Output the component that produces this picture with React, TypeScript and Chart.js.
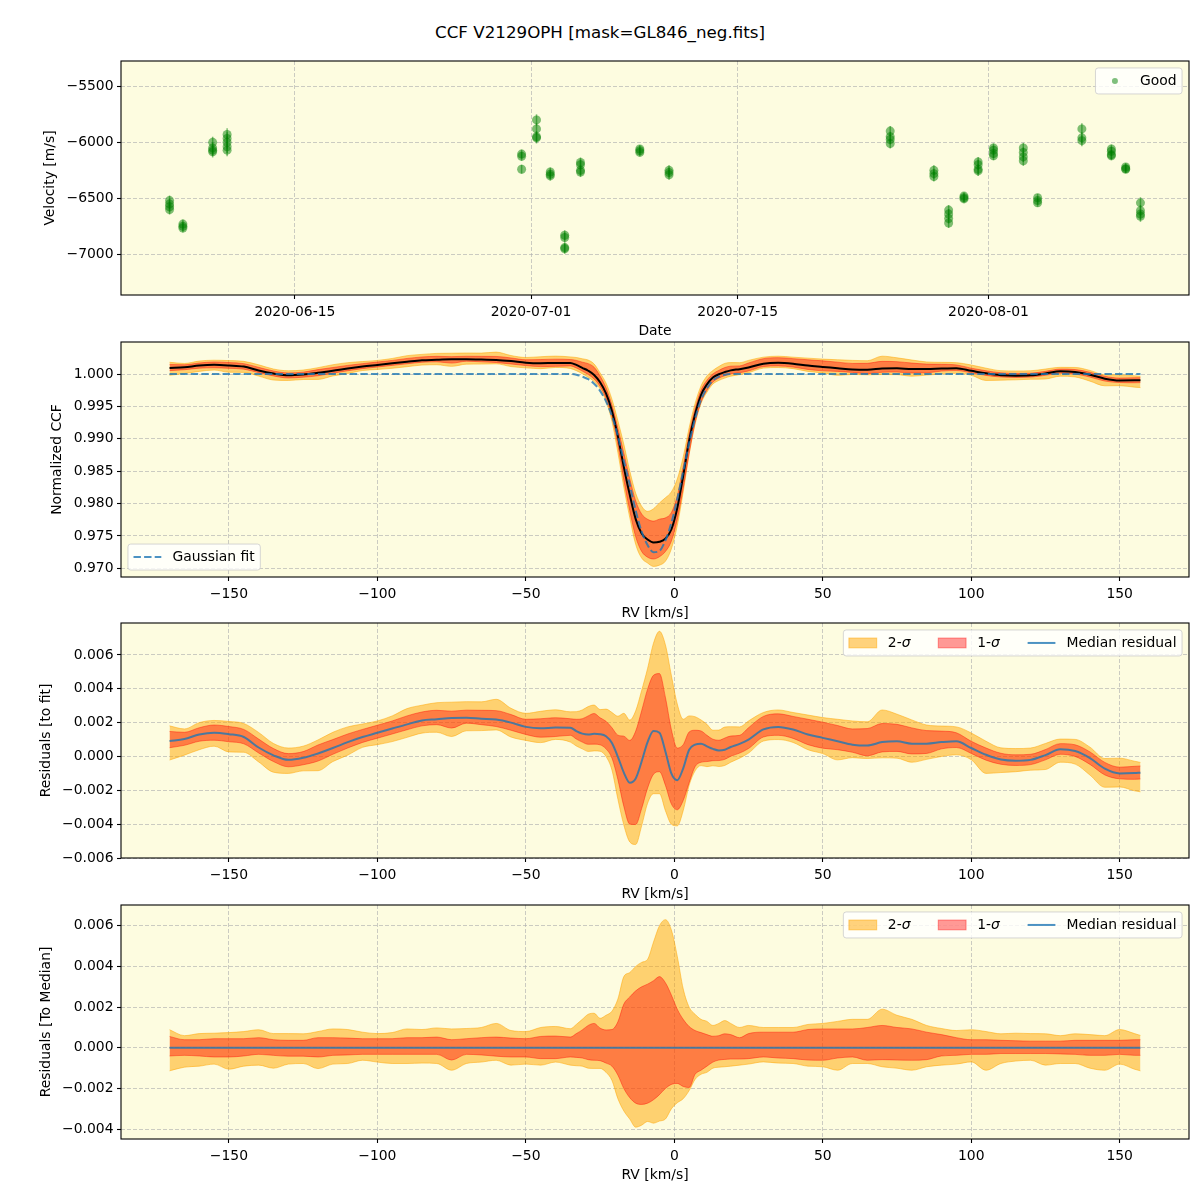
import React, { useEffect, useRef } from "react";
import { Chart, registerables } from "chart.js";

Chart.register(...registerables);

const FAMILY = "'DejaVu Sans', 'Liberation Sans', Arial, sans-serif";
const FS = 13.9;
const GRID_COLOR = "rgba(176,176,176,0.65)";
const BG = "#fdfce0";

// ---------------- Panel 1: velocities ----------------
const nightDates = [
  "2020-06-06T12:00:00Z", "2020-06-07T09:40:00Z", "2020-06-09T10:05:00Z", "2020-06-10T09:36:00Z",
  "2020-06-30T08:38:00Z", "2020-07-01T08:53:00Z", "2020-07-02T07:12:00Z", "2020-07-03T06:43:00Z",
  "2020-07-04T08:24:00Z", "2020-07-08T08:53:00Z", "2020-07-10T08:24:00Z", "2020-07-25T08:10:00Z",
  "2020-07-28T07:12:00Z", "2020-07-29T07:12:00Z", "2020-07-30T08:10:00Z", "2020-07-31T07:12:00Z",
  "2020-08-01T08:10:00Z", "2020-08-03T08:38:00Z", "2020-08-04T07:55:00Z", "2020-08-07T07:55:00Z",
  "2020-08-09T07:55:00Z", "2020-08-10T07:12:00Z", "2020-08-11T07:12:00Z",
];
const nightVels = [
  [-6520, -6550, -6575, -6600],
  [-6730, -6750, -6765],
  [-6000, -6050, -6070, -6085],
  [-5930, -5965, -6000, -6040, -6070],
  [-6105, -6125, -6240],
  [-5800, -5880, -5950, -5960],
  [-6265, -6285, -6300],
  [-6830, -6850, -6940, -6950],
  [-6180, -6200, -6250, -6265],
  [-6060, -6075, -6090],
  [-6250, -6270, -6290],
  [-5900, -5950, -5975, -6010],
  [-6250, -6280, -6305],
  [-6605, -6640, -6680, -6720],
  [-6480, -6495, -6505],
  [-6175, -6200, -6240, -6255],
  [-6050, -6070, -6100, -6120],
  [-6050, -6090, -6130, -6165],
  [-6495, -6520, -6540],
  [-5880, -5960, -5985],
  [-6060, -6080, -6110, -6120],
  [-6220, -6235, -6240],
  [-6540, -6610, -6640, -6660],
];
const nightErrs = [45, 40, 50, 55, 40, 50, 40, 45, 45, 35, 45, 45, 45, 45, 35, 45, 40, 45, 35, 50, 40, 35, 50];
const dateTicks = ["2020-06-15", "2020-07-01", "2020-07-15", "2020-08-01"];
const dateRange = ["2020-06-03T05:00:00Z", "2020-08-14T14:10:00Z"];
const velTicks = [-7000, -6500, -6000, -5500];
const velRange = [-7363, -5274];

// ---------------- Panels 2-4: CCF ----------------
const rvGrid = [
  -170, -165, -160, -155, -150, -145, -140, -135, -130, -125, -120, -115, -110, -105, -100, -95, -90, -85, -80, -75,
  -70, -65, -60, -55, -50, -45, -40, -35, -33, -31, -29, -27, -25, -23, -21, -19, -17, -15, -13, -11,
  -9, -7, -5, -3, -1, 1, 3, 5, 7, 9, 11, 13, 15, 17, 19, 22, 25, 30, 35, 40,
  45, 50, 55, 60, 65, 70, 75, 80, 85, 90, 95, 100, 105, 110, 115, 120, 125, 130, 135, 140,
  145, 150, 155, 157,
];
const gaussFit = [
  1, 1, 1, 1, 1, 1, 1, 1, 1, 1, 1, 1, 1, 1, 1, 1, 1, 1, 1, 1,
  1, 1, 1, 1, 1, 1, 1, 1, 0.9999, 0.9996, 0.9992, 0.9985, 0.9974, 0.9958, 0.9935, 0.9904, 0.9866, 0.9829, 0.9789, 0.9757,
  0.9736, 0.9725, 0.9727, 0.9743, 0.977, 0.9807, 0.985, 0.9893, 0.9931, 0.996, 0.9978, 0.999, 0.9996, 0.9999, 1, 1, 1, 1, 1, 1,
  1, 1, 1, 1, 1, 1, 1, 1, 1, 1, 1, 1, 1, 1, 1, 1, 1, 1, 1, 1,
  1, 1, 1, 1,
];
const medianResidual = [
  0.00092, 0.00103, 0.0013, 0.00141, 0.00132, 0.00115, 0.00053, 0.00007, -0.0002, -0.00008, 0.00018, 0.0005, 0.00085, 0.00115, 0.0014, 0.00165, 0.0019, 0.00213, 0.0022, 0.00228,
  0.00229, 0.00223, 0.00218, 0.002, 0.00175, 0.00167, 0.00171, 0.0017, 0.0015, 0.00135, 0.0013, 0.00134, 0.00132, 0.0012, 0.0008, -0.00002, -0.00095, -0.00155, -0.0013, -0.0003,
  0.00085, 0.0015, 0.0014, 0.0003, -0.001, -0.0014, -0.0007, 0.0004, 0.0007, 0.00076, 0.0006, 0.00045, 0.00036, 0.0004, 0.00056, 0.00075, 0.001, 0.0016, 0.00175, 0.0016,
  0.0013, 0.0011, 0.0009, 0.0007, 0.00065, 0.00085, 0.0009, 0.00076, 0.00076, 0.00085, 0.0009, 0.0005, 0.0001, -0.00018, -0.00025, -0.0002, 0.00008, 0.00043, 0.00032, -0.0001,
  -0.00072, -0.001, -0.00098, -0.00096,
];
const sigma1Upper = [
  0.00056, 0.0004, 0.0004, 0.00045, 0.00045, 0.00045, 0.0005, 0.0004, 0.00037, 0.00037, 0.0005, 0.0005, 0.00048, 0.00045, 0.00045, 0.00045, 0.0005, 0.0005, 0.00053, 0.0004,
  0.00045, 0.0005, 0.00053, 0.00048, 0.00045, 0.00056, 0.00058, 0.00053, 0.0007, 0.00088, 0.0011, 0.0012, 0.00097, 0.00088, 0.0009, 0.00128, 0.00215, 0.0025, 0.0028, 0.003,
  0.00313, 0.0033, 0.0035, 0.0032, 0.0026, 0.0019, 0.0014, 0.00105, 0.00085, 0.00075, 0.00065, 0.00057, 0.0006, 0.00069, 0.00065, 0.0005, 0.0007, 0.00077, 0.00077, 0.00077,
  0.0009, 0.00093, 0.00093, 0.00093, 0.001, 0.0011, 0.001, 0.00093, 0.00077, 0.00065, 0.0005, 0.0004, 0.0004, 0.00037, 0.00035, 0.00033, 0.00033, 0.00033, 0.00037, 0.00037,
  0.00037, 0.00037, 0.0004, 0.0004,
];
const sigma1Lower = [
  -0.0004, -0.00037, -0.0004, -0.00045, -0.00045, -0.0004, -0.00032, -0.00037, -0.00041, -0.00041, -0.00045, -0.00037, -0.00035, -0.00032, -0.00032, -0.00032, -0.00032, -0.00032, -0.00032, -0.0006,
  -0.00032, -0.00035, -0.00041, -0.00045, -0.00045, -0.00053, -0.00053, -0.00045, -0.00047, -0.0005, -0.00058, -0.00061, -0.00063, -0.00075, -0.0009, -0.00134, -0.002, -0.00245, -0.00272, -0.00278,
  -0.00272, -0.00255, -0.0023, -0.002, -0.0018, -0.00175, -0.0019, -0.00195, -0.0013, -0.0011, -0.0009, -0.0007, -0.0006, -0.00057, -0.00055, -0.00055, -0.00053, -0.00045, -0.0005, -0.00053,
  -0.0006, -0.00061, -0.0005, -0.00045, -0.00061, -0.00058, -0.0006, -0.00061, -0.00058, -0.0004, -0.00037, -0.00032, -0.00032, -0.00028, -0.00028, -0.00028, -0.00028, -0.0003, -0.00032, -0.00037,
  -0.00037, -0.00032, -0.00037, -0.00037,
];
const sigma2Upper = [
  0.00089, 0.0006, 0.0007, 0.00072, 0.00075, 0.0008, 0.00089, 0.0007, 0.0007, 0.00069, 0.0008, 0.00093, 0.0009, 0.00077, 0.0007, 0.00075, 0.00093, 0.0009, 0.00098, 0.00093,
  0.00095, 0.001, 0.0012, 0.00085, 0.0008, 0.001, 0.00105, 0.00094, 0.00115, 0.0014, 0.00165, 0.0017, 0.00145, 0.0016, 0.0018, 0.0024, 0.0035, 0.0037, 0.004, 0.0042,
  0.00435, 0.0052, 0.006, 0.0063, 0.0058, 0.0045, 0.0029, 0.002, 0.00165, 0.0014, 0.0013, 0.0011, 0.0012, 0.00134, 0.0012, 0.001, 0.0011, 0.001, 0.001, 0.001,
  0.00115, 0.0012, 0.0013, 0.0014, 0.0014, 0.0019, 0.0016, 0.0014, 0.0011, 0.00095, 0.00085, 0.00089, 0.0008, 0.00069, 0.00072, 0.0007, 0.00069, 0.0006, 0.00069, 0.00065,
  0.0006, 0.0009, 0.0007, 0.00061,
];
const sigma2Lower = [
  -0.00113, -0.00095, -0.0009, -0.0008, -0.00105, -0.0009, -0.00085, -0.001, -0.0008, -0.00077, -0.00102, -0.0008, -0.00077, -0.00061, -0.0007, -0.00077, -0.00077, -0.00075, -0.00077, -0.0011,
  -0.00077, -0.0007, -0.00061, -0.00085, -0.0008, -0.00085, -0.0007, -0.00085, -0.00088, -0.0009, -0.001, -0.00101, -0.00101, -0.0012, -0.0016, -0.0025, -0.0031, -0.0035, -0.0039, -0.0038,
  -0.00362, -0.0037, -0.0036, -0.0035, -0.003, -0.0027, -0.0025, -0.0021, -0.00155, -0.0013, -0.0012, -0.001, -0.00095, -0.00093, -0.0009, -0.00085, -0.0008, -0.00069, -0.00075, -0.00077,
  -0.0009, -0.00093, -0.0011, -0.00077, -0.00077, -0.00093, -0.001, -0.0011, -0.00093, -0.00085, -0.0008, -0.00069, -0.0011, -0.00077, -0.00065, -0.00061, -0.00085, -0.00077, -0.00077, -0.001,
  -0.0011, -0.0008, -0.00105, -0.00113,
];
const rvTicks = [-150, -100, -50, 0, 50, 100, 150];
const rvRange = [-186.35, 173.35];
const ccfTicks = [0.97, 0.975, 0.98, 0.985, 0.99, 0.995, 1.0];
const ccfRange = [0.96867, 1.00494];
const residTicks = [-0.006, -0.004, -0.002, 0, 0.002, 0.004, 0.006];
const residRange = [-0.006, 0.00789];
const medTicks = [-0.004, -0.002, 0, 0.002, 0.004, 0.006];
const medRange = [-0.00448, 0.00702];

// ---------------- layout ----------------
const PANELS = [
  { top: 61, bottom: 295 },
  { top: 342, bottom: 577 },
  { top: 623, bottom: 858 },
  { top: 905, bottom: 1139 },
];
const PAD_TOP = 14;
const XAXIS_H = 46;
const YAXIS_W = 121;
const RIGHT_PAD = 11;

const minus = (s: string) => s.replace(/-/g, "\u2212");

const C2 = "rgba(255,165,0,0.5)";
const C1 = "rgba(255,0,0,0.4)";
const BLUE = "rgba(31,119,180,0.8)";
const GREEN = "rgba(0,128,0,0.5)";

function drawLegend(chart: any, spec: any) {
  if (!spec) return;
  const { ctx, chartArea } = chart;
  const pad = 5.56, handleLen = 27.8, htPad = 11.1, colSp = 27.8, axPad = 6.95, h = 26;
  const normal = `${FS}px ${FAMILY}`;
  const ital = `italic ${FS}px ${FAMILY}`;
  ctx.save();
  const widths = spec.items.map((it: any) => {
    ctx.font = normal;
    let w = ctx.measureText(it.label).width;
    if (it.italic) {
      ctx.font = ital;
      w += ctx.measureText(it.italic).width;
    }
    return w;
  });
  let total = pad * 2 + colSp * (spec.items.length - 1);
  widths.forEach((w: number) => (total += handleLen + htPad + w));
  let bx: number, by: number;
  if (spec.loc === "lower left") {
    bx = chartArea.left + axPad;
    by = chartArea.bottom - axPad - h;
  } else {
    bx = chartArea.right - axPad - total;
    by = chartArea.top + axPad;
  }
  const r = 2.8;
  ctx.beginPath();
  ctx.moveTo(bx + r, by);
  ctx.lineTo(bx + total - r, by);
  ctx.arcTo(bx + total, by, bx + total, by + r, r);
  ctx.lineTo(bx + total, by + h - r);
  ctx.arcTo(bx + total, by + h, bx + total - r, by + h, r);
  ctx.lineTo(bx + r, by + h);
  ctx.arcTo(bx, by + h, bx, by + h - r, r);
  ctx.lineTo(bx, by + r);
  ctx.arcTo(bx, by, bx + r, by, r);
  ctx.closePath();
  ctx.fillStyle = "rgba(255,255,255,0.8)";
  ctx.fill();
  ctx.strokeStyle = "rgba(204,204,204,0.8)";
  ctx.lineWidth = 1;
  ctx.stroke();
  const cy = by + h / 2;
  let x = bx + pad;
  spec.items.forEach((it: any, i: number) => {
    if (it.type === "patch") {
      ctx.fillStyle = it.color;
      ctx.fillRect(x, cy - 4.9, handleLen, 9.8);
      ctx.strokeStyle = it.color;
      ctx.lineWidth = 1;
      ctx.strokeRect(x, cy - 4.9, handleLen, 9.8);
    } else if (it.type === "line") {
      ctx.strokeStyle = it.color;
      ctx.lineWidth = it.width || 2;
      ctx.setLineDash(it.dash || []);
      ctx.beginPath();
      ctx.moveTo(x, cy);
      ctx.lineTo(x + handleLen, cy);
      ctx.stroke();
      ctx.setLineDash([]);
    } else if (it.type === "marker") {
      ctx.fillStyle = it.color;
      ctx.beginPath();
      ctx.arc(x + handleLen / 2, cy, 3, 0, Math.PI * 2);
      ctx.fill();
    }
    const tx = x + handleLen + htPad;
    ctx.fillStyle = "#000";
    ctx.textBaseline = "middle";
    ctx.textAlign = "left";
    ctx.font = normal;
    ctx.fillText(it.label, tx, cy);
    if (it.italic) {
      const lw = ctx.measureText(it.label).width;
      ctx.font = ital;
      ctx.fillText(it.italic, tx + lw, cy);
    }
    x += handleLen + htPad + widths[i] + colSp;
  });
  ctx.restore();
}

function framePlugin(legendSpec: any, errorBars = false) {
  return {
    id: "frame",
    beforeDraw(chart: any) {
      const { ctx, chartArea: a } = chart;
      ctx.save();
      ctx.fillStyle = BG;
      ctx.fillRect(a.left, a.top, a.right - a.left, a.bottom - a.top);
      ctx.restore();
    },
    beforeDatasetsDraw(chart: any) {
      if (!errorBars) return;
      const { ctx } = chart;
      const xs = chart.scales.x;
      const ys = chart.scales.y;
      ctx.save();
      ctx.strokeStyle = GREEN;
      ctx.lineWidth = 1.5;
      chart.data.datasets[0].data.forEach((p: any) => {
        const px = xs.getPixelForValue(p.x);
        ctx.beginPath();
        ctx.moveTo(px, ys.getPixelForValue(p.y - p.err));
        ctx.lineTo(px, ys.getPixelForValue(p.y + p.err));
        ctx.stroke();
      });
      ctx.restore();
    },
    afterDraw(chart: any) {
      const { ctx, chartArea: a } = chart;
      ctx.save();
      ctx.strokeStyle = "#000";
      ctx.lineWidth = 1.1;
      ctx.strokeRect(a.left, a.top, a.right - a.left, a.bottom - a.top);
      ctx.restore();
      drawLegend(chart, legendSpec);
    },
  };
}

function xAxis(range: number[], tickVals: number[], fmt: (v: any) => string, title: string) {
  return {
    type: "linear",
    min: range[0],
    max: range[1],
    afterBuildTicks: (s: any) => {
      s.ticks = tickVals.map((v) => ({ value: v }));
    },
    afterFit: (s: any) => {
      s.height = XAXIS_H;
    },
    ticks: {
      autoSkip: false,
      maxRotation: 0,
      minRotation: 0,
      padding: 5,
      color: "#000",
      font: { family: FAMILY, size: FS },
      callback: fmt,
    },
    grid: { color: GRID_COLOR, lineWidth: 1, drawTicks: true, tickLength: 4, tickColor: "#000", tickWidth: 1.1, tickBorderDash: [] },
    border: { display: false, dash: [4, 2] },
    title: { display: true, text: title, color: "#000", font: { family: FAMILY, size: FS }, padding: { top: 0, bottom: 1.5 } },
  };
}

function yAxis(range: number[], tickVals: number[], fmt: (v: any) => string, title: string, titlePad: number) {
  return {
    type: "linear",
    min: range[0],
    max: range[1],
    afterBuildTicks: (s: any) => {
      s.ticks = tickVals.map((v) => ({ value: v }));
    },
    afterFit: (s: any) => {
      s.width = YAXIS_W;
    },
    ticks: { autoSkip: false, padding: 3.5, color: "#000", font: { family: FAMILY, size: FS }, callback: fmt },
    grid: { color: GRID_COLOR, lineWidth: 1, drawTicks: true, tickLength: 4, tickColor: "#000", tickWidth: 1.1, tickBorderDash: [] },
    border: { display: false, dash: [4, 2] },
    title: { display: true, text: title, color: "#000", font: { family: FAMILY, size: FS }, padding: { top: titlePad, bottom: 0 } },
  };
}

const baseOptions = {
  responsive: false,
  animation: false,
  devicePixelRatio: 1,
  events: [],
  layout: { padding: { left: 0, right: RIGHT_PAD, top: PAD_TOP, bottom: 0 } },
  plugins: { legend: { display: false }, tooltip: { enabled: false } },
};

function pts(center: number[], off?: number[]) {
  return rvGrid.map((x, i) => ({ x, y: center[i] + (off ? off[i] : 0) }));
}

function bandDatasets(center: number[]) {
  const common = { pointRadius: 0, borderWidth: 1, cubicInterpolationMode: "monotone" };
  return [
    { ...common, data: pts(center, sigma2Upper), borderColor: C2, backgroundColor: C2, fill: "+1", order: 6 },
    { ...common, data: pts(center, sigma2Lower), borderColor: C2, fill: false, order: 5 },
    { ...common, data: pts(center, sigma1Upper), borderColor: C1, backgroundColor: C1, fill: "+1", order: 4 },
    { ...common, data: pts(center, sigma1Lower), borderColor: C1, fill: false, order: 3 },
  ];
}

const fmt3 = (v: any) => minus(Number(v).toFixed(3));
const fmtInt = (v: any) => minus(String(v));
const fmtDate = (v: any) => new Date(v).toISOString().slice(0, 10);
const dms = (s: string) => Date.parse(s);

const sigmaLegend = (loc: string) => ({
  loc,
  items: [
    { type: "patch", color: C2, label: "2-", italic: "\u03c3" },
    { type: "patch", color: C1, label: "1-", italic: "\u03c3" },
    { type: "line", color: BLUE, width: 2, label: "Median residual" },
  ],
});

export default function App() {
  const r1 = useRef<HTMLCanvasElement>(null);
  const r2 = useRef<HTMLCanvasElement>(null);
  const r3 = useRef<HTMLCanvasElement>(null);
  const r4 = useRef<HTMLCanvasElement>(null);

  useEffect(() => {
    const charts: Chart[] = [];

    // Panel 1
    const obs = nightDates.flatMap((d, i) => nightVels[i].map((v) => ({ x: dms(d), y: v, err: nightErrs[i] })));
    charts.push(
      new Chart(r1.current as HTMLCanvasElement, {
        type: "scatter",
        data: {
          datasets: [
            { data: obs, pointRadius: 4.5, pointBackgroundColor: GREEN, pointBorderWidth: 0, pointBorderColor: "rgba(0,0,0,0)" },
          ],
        },
        options: {
          ...baseOptions,
          scales: {
            x: xAxis([dms(dateRange[0]), dms(dateRange[1])], dateTicks.map((d) => dms(d + "T00:00:00Z")), fmtDate, "Date"),
            y: yAxis(velRange, velTicks, fmtInt, "Velocity [m/s]", 41.7),
          },
        } as any,
        plugins: [framePlugin({ loc: "upper right", items: [{ type: "marker", color: GREEN, label: "Good" }] }, true)],
      } as any)
    );

    // Panel 2
    const ccfMedian = gaussFit.map((f, i) => f + medianResidual[i]);
    charts.push(
      new Chart(r2.current as HTMLCanvasElement, {
        type: "line",
        data: {
          datasets: [
            ...bandDatasets(ccfMedian),
            { data: pts(ccfMedian), borderColor: "#000", borderWidth: 2, pointRadius: 0, fill: false, cubicInterpolationMode: "monotone", order: 2 },
            { data: pts(gaussFit), borderColor: BLUE, borderWidth: 2, borderDash: [7.4, 3.2], pointRadius: 0, fill: false, cubicInterpolationMode: "monotone", order: 1 },
          ],
        },
        options: {
          ...baseOptions,
          scales: {
            x: xAxis(rvRange, rvTicks, fmtInt, "RV [km/s]"),
            y: yAxis(ccfRange, ccfTicks, fmt3, "Normalized CCF", 48.7),
          },
        } as any,
        plugins: [framePlugin({ loc: "lower left", items: [{ type: "line", color: BLUE, width: 2, dash: [7.4, 3.2], label: "Gaussian fit" }] })],
      } as any)
    );

    // Panel 3
    charts.push(
      new Chart(r3.current as HTMLCanvasElement, {
        type: "line",
        data: {
          datasets: [
            ...bandDatasets(medianResidual),
            { data: pts(medianResidual), borderColor: BLUE, borderWidth: 2, pointRadius: 0, fill: false, cubicInterpolationMode: "monotone", order: 1 },
          ],
        },
        options: {
          ...baseOptions,
          scales: {
            x: xAxis(rvRange, rvTicks, fmtInt, "RV [km/s]"),
            y: yAxis(residRange, residTicks, fmt3, "Residuals [to fit]", 37.7),
          },
        } as any,
        plugins: [framePlugin(sigmaLegend("upper right"))],
      } as any)
    );

    // Panel 4
    const zeros = rvGrid.map(() => 0);
    charts.push(
      new Chart(r4.current as HTMLCanvasElement, {
        type: "line",
        data: {
          datasets: [
            ...bandDatasets(zeros),
            { data: pts(zeros), borderColor: BLUE, borderWidth: 2, pointRadius: 0, fill: false, order: 1 },
          ],
        },
        options: {
          ...baseOptions,
          scales: {
            x: xAxis(rvRange, rvTicks, fmtInt, "RV [km/s]"),
            y: yAxis(medRange, medTicks, fmt3, "Residuals [To Median]", 37.7),
          },
        } as any,
        plugins: [framePlugin(sigmaLegend("upper right"))],
      } as any)
    );

    return () => charts.forEach((c) => c.destroy());
  }, []);

  const refs = [r1, r2, r3, r4];
  return (
    <div style={{ position: "absolute", left: 0, top: 0, width: 1200, height: 1200, background: "#fff", overflow: "hidden" }}>
      <div
        style={{
          position: "absolute",
          left: 0,
          top: 22,
          width: 1200,
          textAlign: "center",
          fontFamily: FAMILY,
          fontSize: 16.7,
          lineHeight: "20px",
          color: "#000",
        }}
      >
        CCF V2129OPH [mask=GL846_neg.fits]
      </div>
      {PANELS.map((p, i) => {
        const h = PAD_TOP + (p.bottom - p.top) + XAXIS_H;
        return (
          <canvas
            key={i}
            ref={refs[i]}
            width={1200}
            height={h}
            style={{ position: "absolute", left: 0, top: p.top - PAD_TOP, width: 1200, height: h }}
          />
        );
      })}
    </div>
  );
}
